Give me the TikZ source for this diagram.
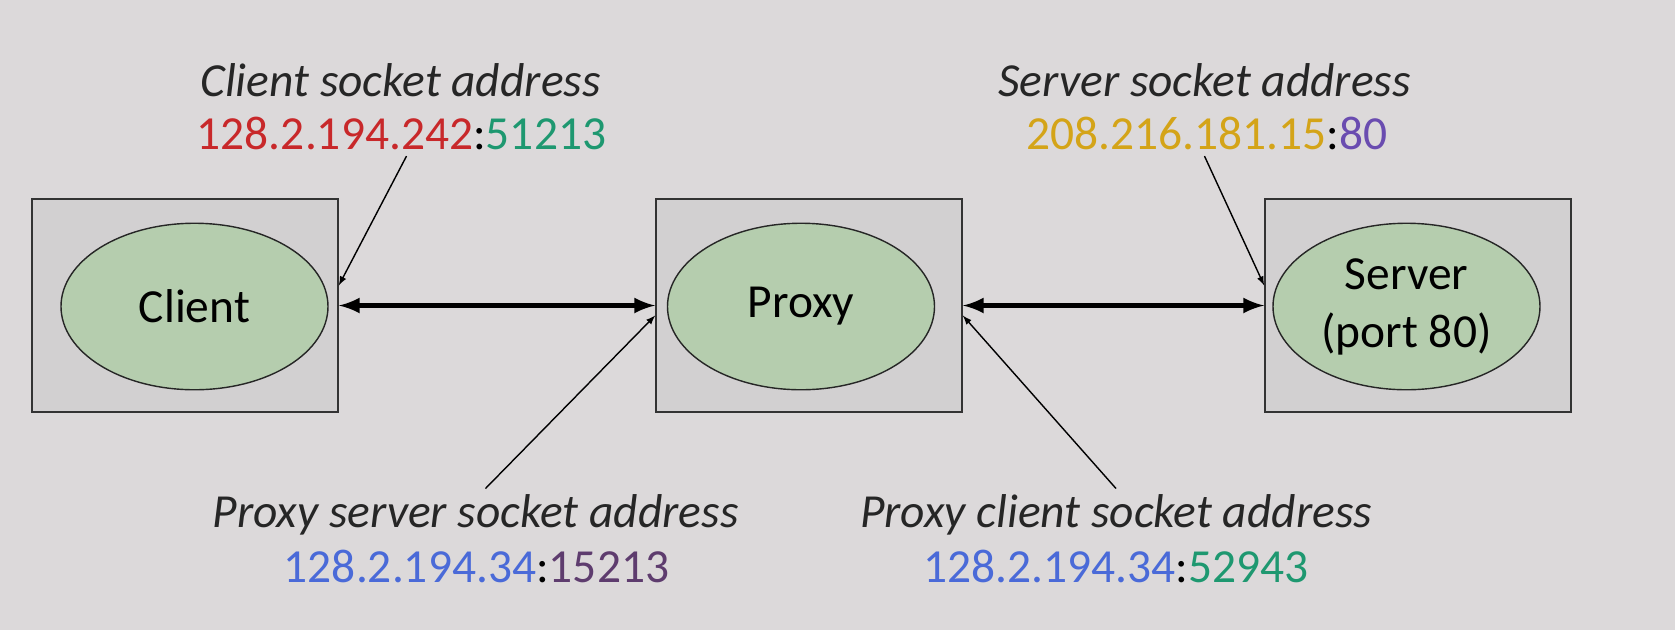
\documentclass[tikz,border=0pt]{standalone}
\usepackage{fontspec}
\setmainfont{Carlito}
\usepackage{tikz}
\usetikzlibrary{calc,arrows,shapes.geometric}

\definecolor{bg}{HTML}{DCD9DA}
\definecolor{boxgray}{HTML}{D2D0D1}
\definecolor{sage}{HTML}{B5CDAE}
\definecolor{ipred}{HTML}{C8282A}
\definecolor{ipgreen}{HTML}{1E9870}
\definecolor{ipgold}{HTML}{D4A418}
\definecolor{ippurple}{HTML}{6A4CB0}
\definecolor{ipblue}{HTML}{4A6AD8}
\definecolor{ipplum}{HTML}{5E3C6E}

\tikzset{
  hostbox/.style={draw=black!80,fill=boxgray,line width=1.2pt,minimum width=6.11cm,minimum height=4.27cm},
  proc/.style={ellipse,draw=black!85,fill=sage,line width=0.8pt,minimum width=5.34cm,minimum height=3.33cm,align=center,font=\fontsize{27}{33}\selectfont},
  lbl/.style={font=\fontsize{27}{33}\selectfont\itshape,text=black!85},
  addr/.style={font=\fontsize{27}{33}\selectfont},
  link/.style={latex-latex,line width=3pt},
  ptr/.style={-latex,line width=0.8pt}
}

\begin{document}
\begin{tikzpicture}
              \useasboundingbox[fill=bg](0,0)rectangle(33.5,-12.6);
              \node[hostbox](clientbox)at(3.70,-6.11){};
              \node[hostbox](proxybox)at(16.18,-6.11){};
              \node[hostbox](serverbox)at(28.36,-6.11){};
              \node[proc](client)at(3.89,-6.13){Client};
              \node[proc](proxy)at(16.02,-6.13){Proxy};
              \node[proc](server)at(28.13,-6.13){Server\\(port 80)};
              \draw[link](clientbox.east)--(proxybox.west);
              \draw[link](proxybox.east)--(serverbox.west);
              \node[lbl](clientlbl)at(8.01,-1.60){Client socket address};
              \node[addr](clientaddr)at(8.03,-2.67){\textcolor{ipred}{128.2.194.242}:\textcolor{ipgreen}{51213}};
              \node[lbl](serverlbl)at(24.09,-1.60){Server socket address};
              \node[addr](serveraddr)at(24.14,-2.67){\textcolor{ipgold}{208.216.181.15}:\textcolor{ippurple}{80}};
              \node[lbl](pslbl)at(9.51,-10.30){Proxy server socket address};
              \node[addr](psaddr)at(9.53,-11.32){\textcolor{ipblue}{128.2.194.34}:\textcolor{ipplum}{15213}};
              \node[lbl](pclbl)at(22.32,-10.30){Proxy client socket address};
              \node[addr](pcaddr)at(22.32,-11.32){\textcolor{ipblue}{128.2.194.34}:\textcolor{ipgreen}{52943}};
              \draw[ptr]([xshift=0.1cm]clientaddr.south)--([yshift=0.4cm]clientbox.east);
              \draw[ptr]([xshift=-0.05cm]serveraddr.south)--([yshift=0.4cm]serverbox.west);
              \draw[ptr]([xshift=0.2cm]pslbl.north)--([yshift=-0.2cm]proxybox.west);
              \draw[ptr](pclbl.north)--([yshift=-0.2cm]proxybox.east);
            \end{tikzpicture}
\end{document}
